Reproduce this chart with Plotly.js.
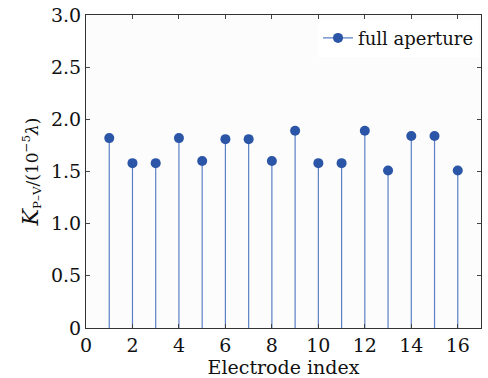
<!DOCTYPE html>
<html>
<head>
<meta charset="utf-8">
<script src="https://cdn.plot.ly/plotly-3.0.1.min.js"></script>
<style>html,body{margin:0;padding:0;background:#fff;}#chart{width:488px;height:378px;}</style>
</head>
<body>
<div id="chart"></div>
<script>
const electrodes = [1,2,3,4,5,6,7,8,9,10,11,12,13,14,15,16];
const kpv = [1.82,1.58,1.58,1.82,1.60,1.81,1.81,1.60,1.89,1.58,1.58,1.89,1.51,1.84,1.84,1.51];
const xTicks = [0,2,4,6,8,10,12,14,16];
const yTicks = [0,0.5,1.0,1.5,2.0,2.5,3.0];
const yTickText = ['0','0.5','1.0','1.5','2.0','2.5','3.0'];
const seriesName = 'full aperture';

const stemX = [], stemY = [];
electrodes.forEach((e,i)=>{ stemX.push(e,e,null); stemY.push(0,kpv[i],null); });

const markerColor = '#2b55a6';
const stemColor = '#5b7fc6';
const serif = 'DejaVu Serif, serif';

const traces = [
  {x:stemX, y:stemY, mode:'lines', line:{color:stemColor, width:1.2}, showlegend:false, hoverinfo:'skip'},
  {x:electrodes, y:kpv, mode:'markers', marker:{color:markerColor, size:10}, showlegend:false},
  {x:[null], y:[null], mode:'lines+markers', name:seriesName, line:{color:stemColor, width:1.2}, marker:{color:markerColor, size:10}}
];

const layout = {
  width:488, height:378,
  margin:{l:86, r:7, t:15, b:50},
  paper_bgcolor:'#ffffff', plot_bgcolor:'#fcfcfc',
  font:{family:serif, size:18, color:'#111'},
  showlegend:true,
  legend:{x:0.995, y:0.985, xanchor:'right', yanchor:'top', bgcolor:'rgba(255,255,255,0.9)', borderwidth:0, font:{family:serif, size:18, color:'#111'}},
  xaxis:{range:[0,17], tickvals:xTicks, ticks:'inside', ticklen:4, mirror:'allticks', showline:true, linecolor:'#333', linewidth:1, showgrid:false, zeroline:false,
         tickfont:{family:serif, size:19}, title:{text:'Electrode index', font:{family:serif, size:19}, standoff:4}},
  yaxis:{range:[0,3], tickvals:yTicks, ticktext:yTickText, ticks:'inside', ticklen:4, mirror:'allticks', showline:true, linecolor:'#333', linewidth:1, showgrid:false, zeroline:false,
         tickfont:{family:serif, size:19},
         title:{text:'<span style="font-size:22px"><i>K</i></span><sub>P–V</sub>/(10<sup>−5</sup><i>λ</i>)', font:{family:serif, size:17}, standoff:8}}
};

Plotly.newPlot('chart', traces, layout, {displayModeBar:false, staticPlot:true});
</script>
</body>
</html>
